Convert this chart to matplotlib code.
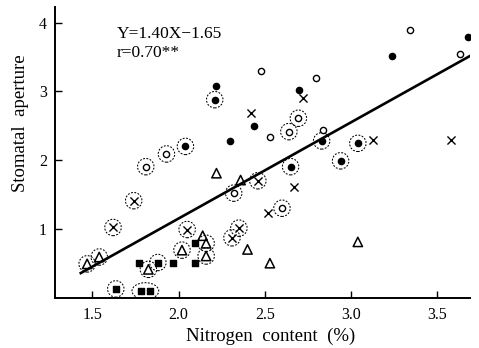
import numpy as np
import matplotlib
matplotlib.use("Agg")
import matplotlib.pyplot as plt
from matplotlib.patches import Ellipse

plt.rcParams['font.family'] = ['Liberation Serif', 'DejaVu Serif']

# regression line
slope = 1.40
intercept = -1.65
line_x = [1.433, 3.724]

# filled circles
fc_x = [2.22, 2.21, 2.44, 2.30, 2.04, 2.70, 3.24, 3.68, 2.83, 3.04, 2.94, 2.65]
fc_y = [3.08, 2.88, 2.50, 2.28, 2.20, 3.02, 3.52, 3.79, 2.28, 2.245, 1.99, 1.905]
fc_ring = [0, 1, 0, 0, 1, 0, 0, 0, 1, 1, 1, 1]

# open circles
oc_x = [2.48, 3.34, 3.63, 2.80, 2.695, 2.64, 2.53, 2.84, 1.93, 1.81, 2.32, 2.60]
oc_y = [3.30, 3.895, 3.54, 3.20, 2.61, 2.415, 2.34, 2.44, 2.09, 1.905, 1.52, 1.30]
oc_ring = [0, 0, 0, 0, 1, 1, 0, 0, 1, 1, 1, 1]

# crosses
cr_x = [2.42, 2.72, 3.13, 3.58, 2.67, 2.52, 2.46, 1.74, 1.62, 2.05, 2.35, 2.31]
cr_y = [2.69, 2.90, 2.29, 2.30, 1.605, 1.23, 1.70, 1.41, 1.02, 0.99, 1.01, 0.87]
cr_ring = [0, 0, 0, 0, 0, 0, 1, 1, 1, 1, 1, 1]

# open triangles
tr_x = [2.22, 2.36, 2.14, 2.16, 2.16, 2.40, 2.02, 1.825, 1.47, 1.54, 2.53, 3.04]
tr_y = [1.81, 1.71, 0.90, 0.79, 0.605, 0.70, 0.69, 0.41, 0.49, 0.59, 0.50, 0.81]
tr_ring = [0, 0, 0, 1, 1, 0, 1, 1, 1, 1, 0, 0]

# filled squares (the last two share one dashed ellipse)
sq_x = [2.095, 1.77, 1.88, 1.97, 2.095, 1.636, 1.78, 1.835]
sq_y = [0.80, 0.51, 0.51, 0.51, 0.51, 0.125, 0.096, 0.096]
sq_ring = [0, 0, 1, 0, 0, 1, 0, 0]
sq_pair = [6, 7]

fig = plt.figure(figsize=(4.79, 3.48), dpi=100)
ax = fig.add_axes([0.115, 0.145, 0.866, 0.835])

lx = np.array(line_x)
ax.plot(lx, slope * lx + intercept, color='black', lw=1.9, zorder=2)

ring_style = dict(s=140, facecolors='none', edgecolors='black',
                  linewidths=0.75, linestyles=(0, (1.8, 1.4)), zorder=3)


def draw_rings(xs, ys, flags):
    xs, ys, flags = np.array(xs), np.array(ys), np.array(flags, bool)
    if flags.any():
        ax.scatter(xs[flags], ys[flags], **ring_style)


draw_rings(fc_x, fc_y, fc_ring)
draw_rings(oc_x, oc_y, oc_ring)
draw_rings(cr_x, cr_y, cr_ring)
draw_rings(tr_x, tr_y, tr_ring)
draw_rings(sq_x, sq_y, sq_ring)

px = [sq_x[i] for i in sq_pair]
py = [sq_y[i] for i in sq_pair]
ax.add_patch(Ellipse((np.mean(px), np.mean(py)), width=(px[1] - px[0]) + 0.1,
                     height=0.24, fill=False, ec='black', lw=0.75,
                     ls=(0, (1.8, 1.4)), zorder=3))

ax.scatter(fc_x, fc_y, s=20, c='black', marker='o', zorder=4)
ax.scatter(oc_x, oc_y, s=20, facecolors='white', edgecolors='black',
           linewidths=1.0, marker='o', zorder=4)
ax.scatter(cr_x, cr_y, s=34, c='black', marker='x', linewidths=1.0, zorder=4)
ax.scatter(tr_x, tr_y, s=45, facecolors='none', edgecolors='black',
           linewidths=1.1, marker='^', zorder=4)
ax.scatter(sq_x, sq_y, s=24, c='black', marker='s', zorder=4)

ax.text(1.643, 3.84, 'Y=1.40X\u22121.65', fontsize=12.5, va='center')
ax.text(1.643, 3.56, 'r=0.70**', fontsize=12.5, va='center')

ax.set_xlim(1.284, 3.69)
ax.set_ylim(0, 4.23)
ax.set_xticks([1.5, 2.0, 2.5, 3.0, 3.5])
ax.set_xticklabels(['1.5', '2.0', '2.5', '3.0', '3.5'])
ax.set_yticks([1, 2, 3, 4])
ax.tick_params(direction='in', length=5, width=1, labelsize=11.5)
ax.tick_params(axis='y', pad=6)
ax.tick_params(axis='x', pad=7)
for s in ['top', 'right']:
    ax.spines[s].set_visible(False)
for s in ['left', 'bottom']:
    ax.spines[s].set_linewidth(1.4)

ax.set_xlabel('Nitrogen  content  (%)', fontsize=13.5)
ax.set_ylabel('Stomatal  aperture', fontsize=13.5)
ax.xaxis.set_label_coords(0.52, -0.105)
ax.yaxis.set_label_coords(-0.062, 0.60)

fig.savefig('out.png', dpi=100)
